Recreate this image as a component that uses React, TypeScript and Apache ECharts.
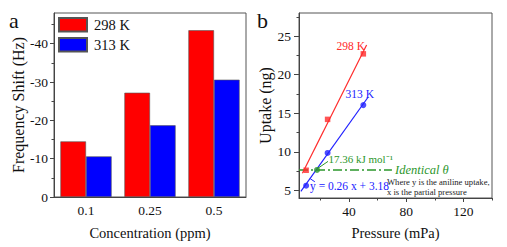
import React, { useEffect, useRef } from "react";
import * as echarts from "echarts";

// ---- panel a data ----
const concentrations = ["0.1", "0.25", "0.5"];
const shift298 = [14.5, 27.2, 43.5];
const shift313 = [10.6, 18.7, 30.6];
const shiftTicks = [0, 10, 20, 30, 40];
const shiftMinorTicks = [5, 15, 25, 35, 45];

// ---- panel b data ----
const pressureTicks = [40, 80, 120];
const pressureMinorTicks = [20, 60, 100, 140];
const uptakeTicks = [5, 10, 15, 20, 25];
const uptakeMinorTicks = [7.5, 12.5, 17.5, 22.5, 27.5];
const points298 = [[10, 7.6], [25, 14.2], [50, 22.7]];
const points313 = [[10, 5.6], [25, 9.85], [50, 16.05]];
const fit298 = [[7.4, 7.2], [52.3, 23.85]];
const fit313 = [[6.3, 4.85], [53.4, 17.1]];
const identicalPoint = [[17.6, 7.64]];
const identicalLine = [[5, 7.64], [70, 7.64]];
const energyConnector = [[17.8, 7.8], [25.3, 8.75]];
const equationConnector = [[12.9, 6.5], [16.1, 6.1]];

const FONT = "Liberation Serif";
const AXIS = "#444";
const RED = "#ff0000";
const BLUE = "#0000ff";
const LRED = "#ff2a2a";
const LBLUE = "#2020ff";
const GREEN = "#2b962b";

export default function App() {
  const ref = useRef<HTMLDivElement>(null);
  useEffect(() => {
    if (!ref.current) return;
    const chart = echarts.init(ref.current, undefined, { renderer: "svg" });
    const axisLine = { show: true, lineStyle: { color: AXIS, width: 1 } };
    const label = { color: "#111", fontFamily: FONT, fontSize: 13.5 };
    const nameStyleX = { color: "#111", fontFamily: FONT, fontSize: 14.5 };
    const nameStyleY = { color: "#111", fontFamily: FONT, fontSize: 16 };
    chart.setOption({
      animation: false,
      textStyle: { fontFamily: FONT },
      grid: [
        { left: 54, top: 13, width: 192, height: 184, show: true, borderColor: "#555", borderWidth: 1, backgroundColor: "transparent" },
        { left: 299, top: 13, width: 193, height: 185, show: true, borderColor: "#555", borderWidth: 1, backgroundColor: "transparent" },
      ],
      legend: {
        data: ["298 K", "313 K"],
        orient: "vertical",
        left: 58,
        top: 17,
        padding: 0,
        itemWidth: 28,
        itemHeight: 13.5,
        itemGap: 4.5,
        icon: "rect",
        textStyle: { color: "#111", fontFamily: FONT, fontSize: 14.5, padding: [0, 0, 0, 2] },
      },
      xAxis: [
        {
          type: "category",
          gridIndex: 0,
          data: concentrations,
          axisLine,
          axisTick: { alignWithLabel: true, length: 3, lineStyle: { color: AXIS } },
          axisLabel: { ...label, margin: 6 },
          name: "Concentration (ppm)",
          nameLocation: "middle",
          nameGap: 28,
          nameTextStyle: nameStyleX,
        },
        {
          type: "value",
          gridIndex: 1,
          position: "bottom",
          min: 5,
          max: 140,
          splitLine: { show: false },
          axisLine,
          axisTick: { customValues: pressureTicks, length: 4, lineStyle: { color: AXIS } },
          axisLabel: { ...label, customValues: pressureTicks, margin: 6 },
          name: "Pressure (mPa)",
          nameLocation: "middle",
          nameGap: 27,
          nameTextStyle: nameStyleX,
        },
        {
          type: "value",
          gridIndex: 1,
          position: "bottom",
          min: 5,
          max: 140,
          splitLine: { show: false },
          axisLine: { show: false },
          axisTick: { customValues: pressureMinorTicks, length: 2.5, lineStyle: { color: AXIS } },
          axisLabel: { show: false },
        },
      ],
      yAxis: [
        {
          type: "value",
          gridIndex: 0,
          position: "left",
          min: 0,
          max: 48,
          splitLine: { show: false },
          axisLine,
          axisTick: { show: true, customValues: shiftTicks, length: 4, lineStyle: { color: AXIS } },
          axisLabel: {
            ...label,
            customValues: shiftTicks,
            margin: 6,
            formatter: (v: number) => (v === 0 ? "0" : "-" + v),
          },
          name: "Frequency Shift (Hz)",
          nameLocation: "middle",
          nameGap: 24,
          nameTextStyle: nameStyleY,
        },
        {
          type: "value",
          gridIndex: 0,
          position: "left",
          min: 0,
          max: 48,
          splitLine: { show: false },
          axisLine: { show: false },
          axisTick: { show: true, customValues: shiftMinorTicks, length: 2.5, lineStyle: { color: AXIS } },
          axisLabel: { show: false },
        },
        {
          type: "value",
          gridIndex: 1,
          position: "left",
          min: 4,
          max: 28,
          splitLine: { show: false },
          axisLine,
          axisTick: { show: true, customValues: uptakeTicks, length: 5, lineStyle: { color: AXIS } },
          axisLabel: { ...label, customValues: uptakeTicks, margin: 8 },
          name: "Uptake (ng)",
          nameLocation: "middle",
          nameGap: 21,
          nameTextStyle: nameStyleY,
        },
        {
          type: "value",
          gridIndex: 1,
          position: "left",
          min: 4,
          max: 28,
          splitLine: { show: false },
          axisLine: { show: false },
          axisTick: { show: true, customValues: uptakeMinorTicks, length: 2.5, lineStyle: { color: AXIS } },
          axisLabel: { show: false },
        },
      ],
      series: [
        {
          name: "298 K",
          type: "bar",
          xAxisIndex: 0,
          yAxisIndex: 0,
          data: shift298,
          barGap: "0%",
          barCategoryGap: "20%",
          itemStyle: { color: RED, borderColor: "#555", borderWidth: 0.6 },
        },
        {
          name: "313 K",
          type: "bar",
          xAxisIndex: 0,
          yAxisIndex: 0,
          data: shift313,
          barGap: "0%",
          barCategoryGap: "20%",
          itemStyle: { color: BLUE, borderColor: "#555", borderWidth: 0.6 },
        },
        {
          name: "identical",
          type: "line",
          xAxisIndex: 1,
          yAxisIndex: 2,
          data: identicalLine,
          showSymbol: false,
          lineStyle: { color: GREEN, width: 1.6, type: [9, 3, 2, 3] },
          z: 2,
        },
        {
          name: "fit298",
          type: "line",
          xAxisIndex: 1,
          yAxisIndex: 2,
          data: fit298,
          showSymbol: false,
          lineStyle: { color: LRED, width: 1.2 },
          z: 3,
        },
        {
          name: "fit313",
          type: "line",
          xAxisIndex: 1,
          yAxisIndex: 2,
          data: fit313,
          showSymbol: false,
          lineStyle: { color: LBLUE, width: 1.2 },
          z: 3,
        },
        {
          name: "conn1",
          type: "line",
          xAxisIndex: 1,
          yAxisIndex: 2,
          data: energyConnector,
          showSymbol: false,
          lineStyle: { color: GREEN, width: 1 },
          z: 3,
        },
        {
          name: "conn2",
          type: "line",
          xAxisIndex: 1,
          yAxisIndex: 2,
          data: equationConnector,
          showSymbol: false,
          lineStyle: { color: LBLUE, width: 1 },
          z: 3,
        },
        {
          name: "pts298",
          type: "scatter",
          xAxisIndex: 1,
          yAxisIndex: 2,
          data: points298,
          symbol: "rect",
          symbolSize: 5.5,
          itemStyle: { color: LRED },
          z: 4,
        },
        {
          name: "pts313",
          type: "scatter",
          xAxisIndex: 1,
          yAxisIndex: 2,
          data: points313,
          symbol: "circle",
          symbolSize: 6,
          itemStyle: { color: LBLUE },
          z: 4,
        },
        {
          name: "ptsId",
          type: "scatter",
          xAxisIndex: 1,
          yAxisIndex: 2,
          data: identicalPoint,
          symbol: "circle",
          symbolSize: 6,
          itemStyle: { color: GREEN },
          z: 4,
        },
      ],
      graphic: [
        { type: "text", x: 9, y: 20, style: { text: "a", fontFamily: FONT, fontSize: 22, fill: "#111", align: "left", verticalAlign: "middle" } },
        { type: "text", x: 257, y: 20, style: { text: "b", fontFamily: FONT, fontSize: 22, fill: "#111", align: "left", verticalAlign: "middle" } },
        { type: "text", x: 336.5, y: 46, style: { text: "298 K", fontFamily: FONT, fontSize: 11.5, fill: LRED, align: "left", verticalAlign: "middle" } },
        { type: "text", x: 345.5, y: 94, style: { text: "313 K", fontFamily: FONT, fontSize: 11.5, fill: LBLUE, align: "left", verticalAlign: "middle" } },
        { type: "text", x: 328.5, y: 158.5, style: { text: "17.36 kJ mol⁻¹", fontFamily: FONT, fontSize: 11, fill: GREEN, align: "left", verticalAlign: "middle" } },
        { type: "text", x: 395, y: 170, style: { text: "Identical θ", fontFamily: FONT, fontStyle: "italic", fontSize: 12.5, fill: GREEN, align: "left", verticalAlign: "middle" } },
        { type: "text", x: 310, y: 186, style: { text: "y = 0.26 x + 3.18", fontFamily: FONT, fontSize: 11.5, fill: LBLUE, align: "left", verticalAlign: "middle" } },
        { type: "text", x: 387, y: 181.5, style: { text: "Where y is the aniline uptake,", fontFamily: FONT, fontSize: 8.6, fill: "#222", align: "left", verticalAlign: "middle" } },
        { type: "text", x: 387, y: 192.3, style: { text: "x is the partial pressure", fontFamily: FONT, fontSize: 8.6, fill: "#222", align: "left", verticalAlign: "middle" } },
      ],
    });
    return () => chart.dispose();
  }, []);
  return <div ref={ref} style={{ position: "absolute", left: 0, top: 0, width: 507, height: 247, background: "#fff" }} />;
}
